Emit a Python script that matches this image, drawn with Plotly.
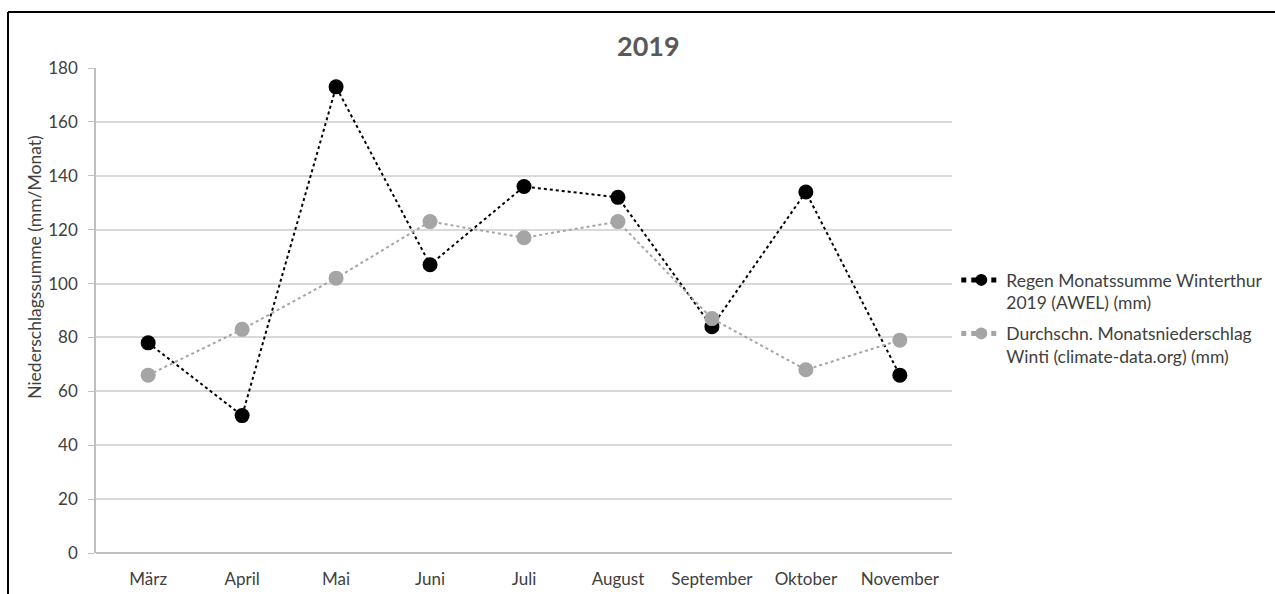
import plotly.graph_objects as go

# Monthly precipitation, Winterthur 2019 vs. long-term average
months = ["März", "April", "Mai", "Juni", "Juli", "August", "September", "Oktober", "November"]
regen_2019 = [78, 51, 173, 107, 136, 132, 84, 134, 66]
durchschnitt = [66, 83, 102, 123, 117, 123, 87, 68, 79]
y_ticks = [0, 20, 40, 60, 80, 100, 120, 140, 160, 180]

name_regen = "Regen Monatssumme Winterthur<br>2019 (AWEL) (mm)"
name_avg = "Durchschn. Monatsniederschlag<br>Winti (climate-data.org) (mm)"

FONT = "Lato, 'Open Sans', sans-serif"
TEXT = "#404040"

fig = go.Figure()
fig.add_trace(go.Scatter(
    x=months, y=regen_2019, name=name_regen, mode="lines+markers",
    legendgroup="awel",
    line=dict(color="#000000", width=2, dash="dot"),
    marker=dict(color="#000000", size=15),
))
fig.add_trace(go.Scatter(
    x=months, y=durchschnitt, name=name_avg, mode="lines+markers",
    legendgroup="avg",
    line=dict(color="#a5a5a5", width=2, dash="dot"),
    marker=dict(color="#a5a5a5", size=15),
))

fig.update_layout(
    width=1275, height=594,
    margin=dict(l=96, r=323, t=68, b=41, autoexpand=False),
    paper_bgcolor="white", plot_bgcolor="white",
    font=dict(family=FONT, size=17, color=TEXT),
    showlegend=True,
    legend=dict(
        x=1.005, y=0.60, xanchor="left", yanchor="top",
        traceorder="grouped", tracegroupgap=5, valign="top",
        itemsizing="constant",
        font=dict(family=FONT, size=17.5, color=TEXT),
        itemwidth=40,
    ),
    xaxis=dict(
        showgrid=False, showline=False, zeroline=False, automargin=False,
        ticks="", tickfont=dict(size=17, color=TEXT),
        ticklabelstandoff=14,
    ),
    yaxis=dict(
        range=[0, 180], tickvals=y_ticks, automargin=False,
        showgrid=True, gridcolor="#d9d9d9", gridwidth=1.5,
        zeroline=True, zerolinecolor="#bfbfbf", zerolinewidth=1.5,
        showline=True, linecolor="#bfbfbf", linewidth=1.5,
        ticks="outside", ticklen=6, tickcolor="#bfbfbf",
        tickfont=dict(size=17, color=TEXT),
        ticklabelstandoff=7,
    ),
    annotations=[
        dict(text="<b>2019</b>", x=0.645, y=1.047, xref="paper", yref="paper",
             xanchor="center", yanchor="middle", showarrow=False,
             font=dict(family=FONT, size=27, color="#595959")),
        dict(text="Niederschlagssumme (mm/Monat)", x=-0.0713, y=0.59,
             xref="paper", yref="paper", xanchor="center", yanchor="middle",
             textangle=-90, showarrow=False,
             font=dict(family=FONT, size=17.5, color=TEXT)),
    ],
    shapes=[
        dict(type="line", xref="paper", yref="paper", x0=-0.1028, x1=1.5, y0=1.1155, y1=1.1155,
             line=dict(color="#000000", width=2)),
        dict(type="line", xref="paper", yref="paper", x0=-0.1028, x1=-0.1028, y0=-0.2, y1=1.1155,
             line=dict(color="#000000", width=2)),
    ],
)

fig.write_html("out.html")
